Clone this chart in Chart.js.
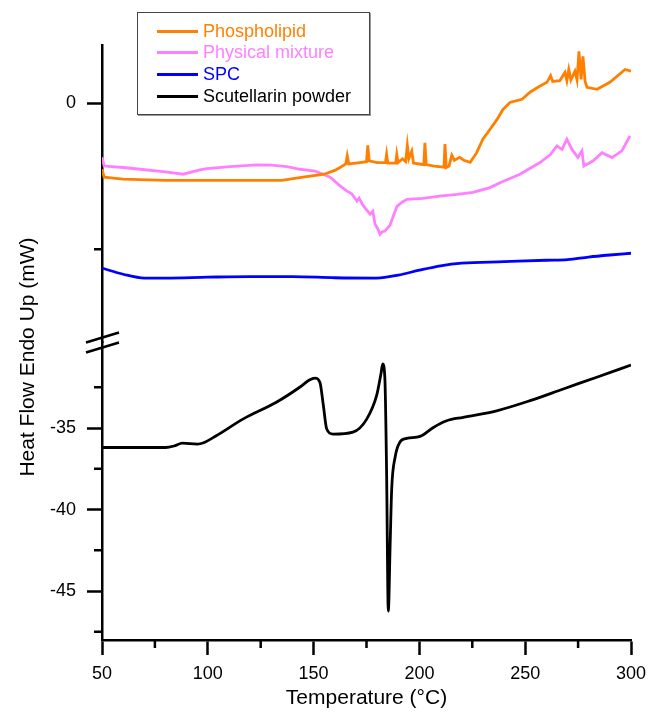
<!DOCTYPE html>
<html>
<head>
<meta charset="utf-8">
<script src="https://cdn.jsdelivr.net/npm/chart.js@4.4.1/dist/chart.umd.min.js"></script>
<style>
  html, body { margin: 0; padding: 0; background: #fff; }
  #wrap { position: relative; width: 655px; height: 716px; }
  #legend {
    position: absolute; left: 137px; top: 12px; width: 231px; height: 101px;
    border: 1px solid #444; box-shadow: 1px 1px 0 #999; background: #fff;
    font-family: "Liberation Sans", Arial, sans-serif; font-size: 18px;
  }
  .row { position: absolute; left: 0; height: 22px; display: flex; align-items: center; white-space: nowrap; }
  .swatch { width: 41px; height: 3px; margin-left: 19px; margin-right: 5px; }
</style>
</head>
<body>
<div id="wrap">
  <canvas id="dsc" width="655" height="716"></canvas>
  <div id="legend"></div>
</div>
<script>
const seriesNames = ['Phospholipid', 'Physical mixture', 'SPC', 'Scutellarin powder']
const seriesColors = ['#FF8000', '#FF80FF', '#0000FF', '#000000']

// Temperature (°C) / heat flow (mW)
const phosT = [50, 51, 60, 80, 100, 120, 135, 145, 155, 160, 162.5, 165.2, 165.9, 166.6, 170, 175, 175.6, 176.3, 180, 184, 184.5, 185.1, 188.8, 189.3, 189.9, 192, 193.5, 194.3, 195, 196.4, 197.2, 200, 202.1, 202.6, 203.2, 207, 211.6, 212.1, 212.7, 214, 215.3, 216.5, 219, 221, 224, 227, 230, 233.4, 236.7, 239.5, 242.8, 248.5, 252.3, 256, 260.3, 262, 263, 266.4, 268.8, 269.7, 270.6, 271.6, 273.5, 274.5, 275.4, 276.4, 277.3, 278.3, 279.2, 284, 290, 297.2, 300]
const phosV = [-2.26, -2.53, -2.6, -2.64, -2.64, -2.64, -2.64, -2.53, -2.43, -2.3, -2.2, -2.08, -1.8, -2.08, -2.05, -2.0, -1.44, -1.97, -2.03, -2.03, -1.75, -2.05, -2.05, -1.75, -2.03, -1.9, -2.0, -1.44, -1.9, -1.64, -2.05, -2.08, -2.1, -1.35, -2.1, -2.15, -2.19, -1.4, -2.2, -2.15, -1.78, -1.95, -1.85, -1.95, -2.02, -1.7, -1.23, -0.89, -0.55, -0.21, 0.03, 0.14, 0.38, 0.55, 0.72, 0.95, 0.75, 0.78, 1.06, 0.78, 1.16, 0.8, 1.1, 0.8, 1.78, 0.82, 1.61, 0.75, 0.55, 0.48, 0.72, 1.16, 1.1]

const mixT = [50, 51, 60, 68, 80, 88.3, 96.3, 99.6, 110.5, 123.3, 130, 137.4, 143.6, 150.7, 157.8, 162.5, 165.8, 168, 170.5, 171.5, 173.3, 174.5, 176.7, 178, 179, 180.3, 181.4, 182.5, 183.7, 186.1, 188, 189.4, 191.8, 194.1, 201.7, 209.7, 217.8, 225.3, 233.4, 238.1, 247.5, 257, 262, 265, 267.4, 269.7, 272.1, 274.9, 276.8, 277.7, 282, 286.3, 291, 295.7, 299.5]
const mixV = [-1.85, -2.15, -2.2, -2.26, -2.35, -2.43, -2.28, -2.24, -2.17, -2.11, -2.12, -2.17, -2.26, -2.32, -2.53, -2.83, -3.01, -3.1, -3.35, -3.25, -3.49, -3.6, -3.8, -3.7, -4.14, -4.3, -4.49, -4.4, -4.38, -4.18, -3.8, -3.53, -3.39, -3.29, -3.26, -3.18, -3.12, -3.05, -2.89, -2.72, -2.43, -2.03, -1.75, -1.46, -1.58, -1.23, -1.58, -1.86, -1.63, -2.15, -1.98, -1.69, -1.86, -1.63, -1.12]

const spcT = [50, 60, 70, 80, 100, 120, 140, 160, 180, 190, 200, 210, 220, 240, 260, 270, 280, 290, 300]
const spcV = [-5.65, -5.86, -5.99, -5.99, -5.96, -5.94, -5.94, -5.98, -5.99, -5.89, -5.72, -5.57, -5.48, -5.43, -5.38, -5.36, -5.27, -5.2, -5.14]

const scutT = [50, 80, 84, 88, 95, 98, 104, 116.6, 132.6, 143.6, 148, 150.7, 153, 154.6, 156.2, 159.2, 168.6, 175.1, 179.8, 181.8, 182.7, 183.7, 184.5, 185.3, 186.2, 186.9, 188.5, 190.8, 194, 200.3, 206.6, 212.9, 220.7, 236.5, 252.3, 268, 283.8, 300]
const scutV = [-36.19, -36.19, -36.1, -35.92, -35.98, -35.9, -35.47, -34.45, -33.4, -32.48, -32.05, -31.93, -32.2, -33.6, -35.06, -35.37, -35.25, -34.45, -33.0, -31.7, -31.07, -32.0, -37.7, -46.23, -42.0, -38.75, -36.8, -35.86, -35.63, -35.51, -34.96, -34.55, -34.34, -33.94, -33.32, -32.6, -31.88, -31.13]

// axis ticks
const xMajor = [50, 100, 150, 200, 250, 300]
const xMinor = [75, 125, 175, 225, 275]
const yTopMajor = [0]
const yTopMinor = [-5]
const yBotMajor = [-35, -40, -45]
const yBotMinor = [-32.5, -37.5, -42.5, -47.5]

const FONT = '"Liberation Sans", Arial, sans-serif'

function pairs(xs, ys) {
  return xs.map((x, i) => ({ x, y: ys[i] }))
}

function tickSetter(values) {
  return scale => { scale.ticks = values.map(v => ({ value: v })) }
}

const axisGrid = { drawOnChartArea: false, drawTicks: true, tickLength: 15, tickWidth: 2.5, tickColor: '#000' }
const axisBorder = { display: true, color: '#000', width: 2.5 }

const decorations = {
  id: 'decorations',
  afterDraw(chart) {
    const ctx = chart.ctx
    const { x, yTop, yBot } = chart.scales
    ctx.save()
    ctx.strokeStyle = '#000'
    ctx.lineWidth = 2.5
    ctx.beginPath()
    xMinor.forEach(v => {
      const px = x.getPixelForValue(v)
      ctx.moveTo(px, x.top)
      ctx.lineTo(px, x.top + 8)
    })
    const ax = yBot.right
    yTopMinor.forEach(v => {
      const py = yTop.getPixelForValue(v)
      ctx.moveTo(ax, py)
      ctx.lineTo(ax - 8, py)
    })
    yBotMinor.forEach(v => {
      const py = yBot.getPixelForValue(v)
      ctx.moveTo(ax, py)
      ctx.lineTo(ax - 8, py)
    })
    ctx.stroke()

    // axis break marks
    const b = yBot.top
    ctx.beginPath()
    ctx.moveTo(ax - 16, b)
    ctx.lineTo(ax + 17, b - 10)
    ctx.moveTo(ax - 16, b + 10)
    ctx.lineTo(ax + 17, b)
    ctx.stroke()

    // y title spanning both parts
    ctx.translate(28, 357)
    ctx.rotate(-Math.PI / 2)
    ctx.fillStyle = '#000'
    ctx.font = '21px ' + FONT
    ctx.textAlign = 'center'
    ctx.textBaseline = 'middle'
    ctx.fillText('Heat Flow Endo Up (mW)', 0, 0)
    ctx.restore()
  }
}

const datasetsSrc = [
  { data: pairs(phosT, phosV), axis: 'yTop' },
  { data: pairs(mixT, mixV), axis: 'yTop' },
  { data: pairs(spcT, spcV), axis: 'yTop', mono: true },
  { data: pairs(scutT, scutV), axis: 'yBot', mono: true }
]

const datasets = datasetsSrc.map((d, i) => ({
  label: seriesNames[i],
  data: d.data,
  yAxisID: d.axis,
  borderColor: seriesColors[i],
  borderWidth: 2.8,
  pointRadius: 0,
  fill: false,
  tension: d.mono ? 0.4 : 0,
  cubicInterpolationMode: d.mono ? 'monotone' : 'default'
}))

const tickFont = { family: FONT, size: 18 }

new Chart(document.getElementById('dsc'), {
  type: 'line',
  data: { datasets },
  options: {
    responsive: false,
    animation: false,
    devicePixelRatio: 1,
    layout: { padding: { left: 0, right: 24, top: 45, bottom: 0 } },
    plugins: { legend: { display: false }, tooltip: { enabled: false } },
    scales: {
      x: {
        type: 'linear', position: 'bottom', min: 50, max: 300,
        afterBuildTicks: tickSetter(xMajor),
        afterFit: s => { s.height = 76 },
        ticks: { color: '#000', font: tickFont, padding: 8, maxRotation: 0, autoSkip: false },
        grid: axisGrid, border: axisBorder,
        title: { display: true, text: 'Temperature (°C)', color: '#000', font: { family: FONT, size: 21 }, padding: { top: 0, bottom: 5 } }
      },
      // defined bottom part first so the stack puts it under the top part
      yBot: {
        type: 'linear', position: 'left', stack: 'heat', stackWeight: 1, min: -48, max: -29.75,
        afterBuildTicks: tickSetter(yBotMajor),
        afterFit: s => { s.width = 102 },
        ticks: { color: '#000', font: tickFont, padding: 11 },
        grid: axisGrid, border: axisBorder
      },
      yTop: {
        type: 'linear', position: 'left', stack: 'heat', stackWeight: 1, min: -8.2, max: 2,
        afterBuildTicks: tickSetter(yTopMajor),
        afterFit: s => { s.width = 102 },
        ticks: { color: '#000', font: tickFont, padding: 11 },
        grid: axisGrid, border: axisBorder
      }
    }
  },
  plugins: [decorations]
})

// legend inside the plot, built from the series arrays
const legend = document.getElementById('legend')
seriesNames.forEach((name, i) => {
  const row = document.createElement('div')
  row.className = 'row'
  row.style.top = (7 + i * 21.9) + 'px'
  const sw = document.createElement('span')
  sw.className = 'swatch'
  sw.style.background = seriesColors[i]
  const txt = document.createElement('span')
  txt.textContent = name
  txt.style.color = seriesColors[i]
  row.appendChild(sw)
  row.appendChild(txt)
  legend.appendChild(row)
})
</script>
</body>
</html>
